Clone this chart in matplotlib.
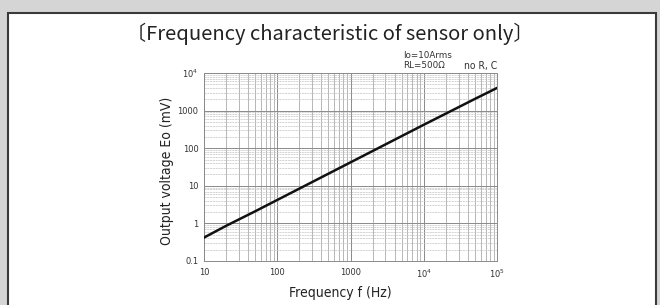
import matplotlib
matplotlib.use("Agg")
import matplotlib.pyplot as plt
from matplotlib.patches import Rectangle
from matplotlib.ticker import FixedLocator, FixedFormatter, LogLocator, NullFormatter

# values
freq_hz = [10, 20, 50, 100, 200, 500, 1000, 2000, 5000, 10000, 20000, 50000, 100000]
eo_mv = [0.42, 0.86, 2.1, 4.2, 8.4, 21, 42, 84, 210, 420, 830, 2050, 4000]

x_ticks = [10, 100, 1000, 1e4, 1e5]
x_tick_labels = ["10", "100", "1000", "$10^4$", "$10^5$"]
y_ticks = [0.1, 1, 10, 100, 1000, 1e4]
y_tick_labels = ["0.1", "1", "10", "100", "1000", "$10^4$"]

W, H = 660, 305
fig = plt.figure(figsize=(W / 100, H / 100), dpi=100)
fig.patch.set_facecolor("#d5d5d5")

# white framed panel behind everything
panel = Rectangle((8 / W, -0.1), 648 / W, 1.1 - 13 / H, transform=fig.transFigure,
                  facecolor="white", edgecolor="#3a3a3a", linewidth=1.5, zorder=-1)
fig.patches.append(panel)

cjk = ["Noto Sans CJK JP", "DejaVu Sans"]
cond = {"family": "DejaVu Sans", "stretch": "condensed"}

ax = fig.add_axes([204 / W, 1 - 261 / H, 293 / W, 188 / H])
ax.set_zorder(1)
ax.set_facecolor("white")
ax.plot(freq_hz, eo_mv, color="#111111", linewidth=1.8, zorder=5)

ax.set_xscale("log")
ax.set_yscale("log")
ax.set_xlim(10, 1e5)
ax.set_ylim(0.1, 1e4)

ax.xaxis.set_major_locator(FixedLocator(x_ticks))
ax.xaxis.set_major_formatter(FixedFormatter(x_tick_labels))
ax.yaxis.set_major_locator(FixedLocator(y_ticks))
ax.yaxis.set_major_formatter(FixedFormatter(y_tick_labels))
ax.xaxis.set_minor_locator(LogLocator(base=10, subs=range(2, 10)))
ax.yaxis.set_minor_locator(LogLocator(base=10, subs=range(2, 10)))
ax.xaxis.set_minor_formatter(NullFormatter())
ax.yaxis.set_minor_formatter(NullFormatter())

ax.tick_params(which="both", length=0, labelsize=6, labelcolor="#333333")
ax.tick_params(axis="x", pad=5)
ax.tick_params(axis="y", pad=4)

ax.grid(which="major", color="#8a8a8a", linewidth=0.7)
ax.grid(which="minor", axis="x", color="#9a9a9a", linewidth=0.5)
ax.grid(which="minor", axis="y", color="#c4c4c4", linewidth=0.5, linestyle=(0, (3, 1)))
for s in ax.spines.values():
    s.set_color("#8a8a8a")
    s.set_linewidth(0.7)

# axis titles placed as in the reference
fig.text(340 / W, 1 - 293 / H, "Frequency f (Hz)", fontsize=10, color="#222222",
         ha="center", va="center", **cond)
fig.text(167 / W, 1 - 171 / H, "Output voltage Eo (mV)", fontsize=10, color="#222222",
         ha="center", va="center", rotation=90, **cond)

fig.text(0.5, 1 - 34 / H, "〔Frequency characteristic of sensor only〕", family=cjk,
         fontsize=14.5, color="#222222", ha="center", va="center")
fig.text(403 / W, 1 - 55 / H, "Io=10Arms", fontsize=6.3, color="#333333", va="center")
fig.text(403 / W, 1 - 66 / H, "RL=500Ω", fontsize=6.3, color="#333333", va="center")
fig.text(497 / W, 1 - 66 / H, "no R, C", fontsize=7.5, color="#333333",
         ha="right", va="center", **cond)

fig.savefig("out.png", dpi=100, facecolor=fig.get_facecolor())
